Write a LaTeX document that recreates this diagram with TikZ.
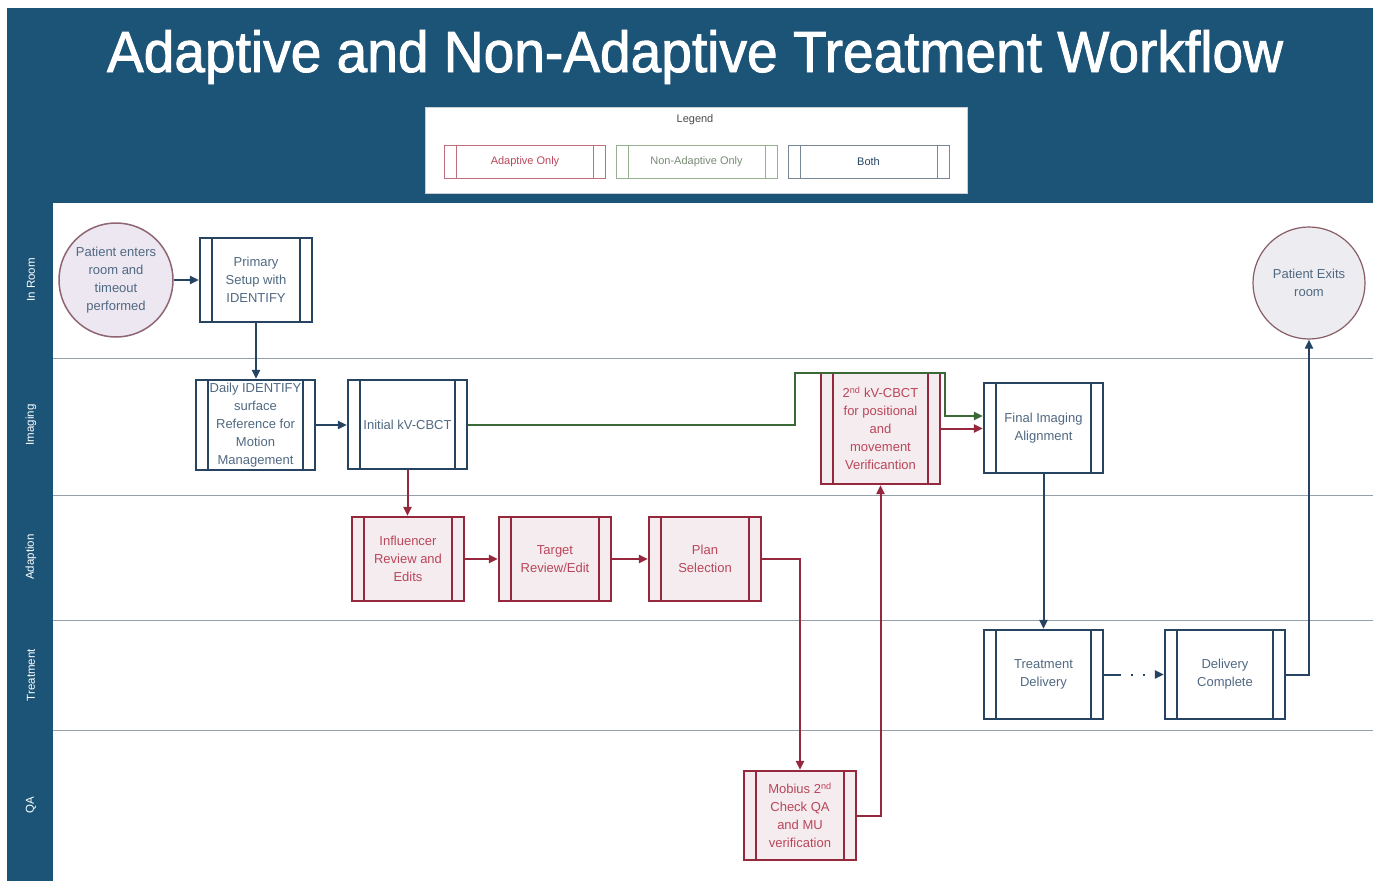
\documentclass[tikz,border=0pt]{standalone}
\usepackage{fontspec}
\setmainfont{Liberation Sans}
\newfontfamily\titlefont[FakeBold=1.6]{Liberation Sans}
\usetikzlibrary{arrows.meta}
\definecolor{hdr}{RGB}{28,84,120}
\definecolor{bl}{RGB}{38,68,98}
\definecolor{bltxt}{RGB}{80,105,130}
\definecolor{rd}{RGB}{150,40,62}
\definecolor{rdtxt}{RGB}{185,70,90}
\definecolor{rdfill}{RGB}{245,236,239}
\definecolor{gr}{RGB}{58,105,55}
\definecolor{lgr}{RGB}{150,175,145}
\definecolor{lrd}{RGB}{190,110,125}
\definecolor{lbl}{RGB}{120,135,150}
\definecolor{lane}{RGB}{150,160,170}
\definecolor{circA}{RGB}{236,231,240}
\definecolor{circB}{RGB}{237,236,240}
\tikzset{
  proc/.style={draw=#1, line width=2.2pt, align=center, inner sep=2pt,
    font=\fontsize{13}{18}\selectfont,
    path picture={\draw[#1,line width=1.8pt]
      ([xshift=12pt]path picture bounding box.north west) -- ([xshift=12pt]path picture bounding box.south west)
      ([xshift=-12pt]path picture bounding box.north east) -- ([xshift=-12pt]path picture bounding box.south east);}},
  bluebox/.style={proc=bl, text=bltxt, fill=white},
  redbox/.style={proc=rd, text=rdtxt, fill=rdfill},
  sz/.style 2 args={minimum width=#1pt, minimum height=#2pt},
  legbox/.style={draw=#1, line width=0.8pt, minimum width=161pt, minimum height=33pt,
    font=\fontsize{11}{13}\selectfont, fill=white,
    path picture={\draw[#1,line width=0.8pt]
      ([xshift=12pt]path picture bounding box.north west) -- ([xshift=12pt]path picture bounding box.south west)
      ([xshift=-12pt]path picture bounding box.north east) -- ([xshift=-12pt]path picture bounding box.south east);}},
  lanelabel/.style={rotate=90, text=white, font=\fontsize{11.5}{13}\selectfont},
  arr/.style={line width=2pt, draw=#1, -{Triangle[length=9pt,width=8pt]}},
}
\begin{document}
\begin{tikzpicture}[x=1pt,y=-1pt]
\useasboundingbox (0,0) rectangle (1373,881);
\fill[white] (0,0) rectangle (1373,881);
% header and left strip
\fill[hdr] (7,8) rectangle (1373,203);
\fill[hdr] (7,203) rectangle (53,881);
\node[text=white, anchor=base, inner sep=0pt, xscale=0.95, font=\fontsize{58}{60}\titlefont] (title) at (695,72) {Adaptive and Non-Adaptive Treatment Workflow};
% legend
\node[fill=white, draw=lane!50, line width=0.5pt, minimum width=542pt, minimum height=86pt] (legend) at (696,150) {};
\node[text=black!70, font=\fontsize{11}{13}\selectfont] (legtitle) at (695,120) {Legend};
\node[legbox=lrd, text=rdtxt] (lega) at (525,161.5) {Adaptive Only};
\node[legbox=lgr, text=lgr!80!black] (legn) at (696.5,161.5) {Non-Adaptive Only};
\node[legbox=lbl, text=bl] (legb) at (868.5,161.5) {Both};
% lanes
\foreach \yy in {358,495,620,730} \draw[lane, line width=1pt] (53,\yy) -- (1373,\yy);
\node[lanelabel] (l1) at (31,280) {In Room};
\node[lanelabel] (l2) at (31,425) {Imaging};
\node[lanelabel] (l3) at (31,557) {Adaption};
\node[lanelabel] (l4) at (31,675) {Treatment};
\node[lanelabel] (l5) at (31,805) {QA};
% nodes
\node[circle, draw=black!65!purple!60, line width=1.5pt, fill=circA, minimum size=114pt, inner sep=0pt, align=center, text=bltxt, font=\fontsize{13}{18}\selectfont] (start) at (116,280) {Patient enters\\room and\\timeout\\performed};
\node[circle, draw=rd!40!gray, line width=1.2pt, fill=circB, minimum size=112pt, inner sep=0pt, align=center, text=bltxt, font=\fontsize{13}{18}\selectfont] (exit) at (1309,283) {Patient Exits\\room};
\node[bluebox, sz={112}{84}] (prim) at (256,280) {Primary\\Setup with\\IDENTIFY};
\node[bluebox, sz={119}{90}] (daily) at (255.5,425) {Daily IDENTIFY\\surface\\Reference for\\Motion\\Management};
\node[bluebox, sz={119}{89}] (init) at (407.5,424.5) {Initial kV-CBCT};
\node[redbox, sz={112}{84}] (infl) at (408,559) {Influencer\\Review and\\Edits};
\node[redbox, sz={112}{84}] (targ) at (555,559) {Target\\Review/Edit};
\node[redbox, sz={112}{84}] (plan) at (705,559) {Plan\\Selection};
\node[redbox, sz={119}{111}] (kv2) at (880.5,428.5) {2\textsuperscript{nd} kV-CBCT\\for positional\\and\\movement\\Verificantion};
\node[bluebox, sz={119}{90}] (final) at (1043.5,428) {Final Imaging\\Alignment};
\node[bluebox, sz={119}{89}] (treat) at (1043.5,674.5) {Treatment\\Delivery};
\node[bluebox, sz={120}{89}] (done) at (1225,674.5) {Delivery\\Complete};
\node[redbox, sz={112}{89}] (mob) at (800,815.5) {Mobius 2\textsuperscript{nd}\\Check QA\\and MU\\verification};
% connectors
\draw[arr=bl] (start) -- (prim);
\draw[arr=bl] (prim.south) -- (prim.south |- daily.north);
\draw[arr=bl] (daily.east) -- (daily.east -| init.west);
\coordinate (g1) at (795,373);
\coordinate (g2) at (945,373);
\draw[arr=gr] (init.east) -| (g1) -- (g2) |- ([yshift=12pt]final.west);
\draw[arr=rd] (kv2.east) -- (kv2.east -| final.west);
\draw[arr=rd] (init.south) -- (init.south |- infl.north);
\draw[arr=rd] (infl) -- (targ);
\draw[arr=rd] (targ) -- (plan);
\draw[arr=rd] (plan.east) -| (mob.north);
\draw[arr=rd] (mob.east) -| (kv2.south);
\draw[arr=bl] (final.south) -- (treat.north);
\draw[arr=bl, dash pattern=on 17pt off 10pt on 2pt off 10pt on 2pt off 30pt] (treat.east) -- (done.west);
\draw[arr=bl] (done.east) -| (exit.south);
\end{tikzpicture}
\end{document}
